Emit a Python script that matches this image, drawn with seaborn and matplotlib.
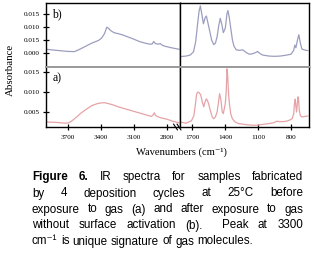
import numpy as np
import pandas as pd
import matplotlib
matplotlib.use("Agg")
import matplotlib.pyplot as plt
from matplotlib.lines import Line2D
import seaborn as sns

# ---- spectrum (b): after exposure to gas ----
wn_b_left = [3890, 3800, 3700, 3640, 3600, 3540, 3480, 3420, 3390, 3365, 3345, 3330,
             3310, 3280, 3240, 3200, 3150, 3100, 3050, 3000, 2960, 2935, 2920, 2905,
             2880, 2860, 2845, 2820, 2760, 2690]
abs_b_left = [0.0014, 0.0010, 0.0006, 0.0005, 0.0012, 0.0025, 0.0038, 0.0048, 0.0058,
              0.0075, 0.0099, 0.0095, 0.0086, 0.0078, 0.0074, 0.0069, 0.0061, 0.0053,
              0.0044, 0.0038, 0.0034, 0.0034, 0.0044, 0.0036, 0.0034, 0.0036, 0.0030,
              0.0026, 0.0020, 0.0014]
wn_b_right = [1810, 1760, 1720, 1690, 1670, 1655, 1640, 1628, 1615, 1600, 1585, 1573,
              1560, 1543, 1525, 1506, 1490, 1475, 1460, 1446, 1432, 1418, 1400, 1385,
              1376, 1365, 1350, 1335, 1320, 1300, 1270, 1240, 1210, 1180, 1150, 1120,
              1105, 1090, 1060, 1000, 950, 900, 850, 800, 775, 765, 755, 740, 728, 715,
              700, 680, 660, 645]
abs_b_right = [-0.0014, -0.0012, -0.0008, 0.0005, 0.0045, 0.0105, 0.0160, 0.0181, 0.0150,
               0.0112, 0.0135, 0.0142, 0.0118, 0.0085, 0.0050, 0.0032, 0.0038, 0.0062,
               0.0105, 0.0133, 0.0110, 0.0078, 0.0095, 0.0150, 0.0163, 0.0140, 0.0095,
               0.0050, 0.0025, 0.0012, 0.0010, 0.0012, 0.0002, -0.0005, -0.0003, 0.0002,
               0.0006, 0.0000, -0.0008, -0.0012, -0.0013, -0.0012, -0.0009, -0.0005,
               0.0010, 0.0030, 0.0020, 0.0050, 0.0070, 0.0040, 0.0015, 0.0012, 0.0010,
               0.0009]

# ---- spectrum (a): before exposure to gas ----
wn_a_left = [3890, 3800, 3720, 3690, 3660, 3620, 3580, 3530, 3480, 3430, 3390, 3360,
             3330, 3280, 3230, 3180, 3130, 3080, 3030, 2980, 2940, 2925, 2915, 2905,
             2890, 2850, 2800, 2750, 2690]
abs_a_left = [0.0025, 0.0024, 0.0022, 0.0023, 0.0028, 0.0037, 0.0047, 0.0057, 0.0066,
              0.0071, 0.0073, 0.0073, 0.0071, 0.0067, 0.0062, 0.0058, 0.0054, 0.0050,
              0.0046, 0.0042, 0.0039, 0.0043, 0.0048, 0.0042, 0.0039, 0.0035, 0.0032,
              0.0027, 0.0023]
wn_a_right = [1810, 1760, 1710, 1688, 1675, 1662, 1650, 1638, 1625, 1610, 1597, 1585,
              1573, 1562, 1550, 1535, 1520, 1506, 1490, 1475, 1462, 1452, 1440, 1428,
              1418, 1408, 1400, 1392, 1384, 1378, 1370, 1362, 1350, 1335, 1310, 1280,
              1250, 1200, 1150, 1110, 1060, 1000, 960, 930, 900, 870, 840, 810, 790,
              775, 768, 761, 755, 749, 742, 735, 730, 724, 715, 705, 690, 670, 645]
abs_a_right = [0.0025, 0.0022, 0.0028, 0.0040, 0.0065, 0.0095, 0.0100, 0.0098, 0.0093,
               0.0075, 0.0063, 0.0075, 0.0083, 0.0078, 0.0068, 0.0052, 0.0038, 0.0033,
               0.0038, 0.0050, 0.0075, 0.0096, 0.0080, 0.0050, 0.0046, 0.0060, 0.0071,
               0.0100, 0.0158, 0.0140, 0.0095, 0.0070, 0.0045, 0.0033, 0.0025, 0.0021,
               0.0020, 0.0018, 0.0017, 0.0017, 0.0019, 0.0021, 0.0023, 0.0027, 0.0026,
               0.0026, 0.0027, 0.0030, 0.0033, 0.0045, 0.0070, 0.0082, 0.0065, 0.0050,
               0.0070, 0.0088, 0.0080, 0.0055, 0.0042, 0.0038, 0.0038, 0.0039, 0.0040]

xticks_left = [3700, 3400, 3100, 2800]
xticks_right = [1700, 1400, 1100, 800]
yticks_b = [0.015, 0.010, 0.005, 0.000]
yticklabels_b = ['0.015', '0.010', '0.015', '0.000']   # as printed in the original
yticks_a = [0.015, 0.010, 0.005]
yticklabels_a = ['0.015', '0.010', '0.005']

caption = [
    [("Figure", "bold"), ("6.", "bold"), ("IR", "normal"), ("spectra", "normal"),
     ("for", "normal"), ("samples", "normal"), ("fabricated", "normal")],
    "by 4 deposition cycles at 25°C before",
    "exposure to gas (a) and after exposure to gas",
    "without surface activation (b).  Peak at 3300",
    "cm\u207b\u00b9 is unique signature of gas molecules.",
]

sns.set_style("ticks")
plt.rcParams['font.family'] = ['Liberation Serif', 'DejaVu Serif']
plt.rcParams['text.color'] = 'black'

W, H = 314, 254
fig = plt.figure(figsize=(W / 100, H / 100), dpi=100)

def box(x0, y0, x1, y1):
    # pixel box (top-left origin) -> figure fraction rect
    return [x0 / W, 1 - y1 / H, (x1 - x0) / W, (y1 - y0) / H]

ax_bl = fig.add_axes(box(45.5, 3, 180, 67))
ax_br = fig.add_axes(box(180, 3, 309, 67))
ax_al = fig.add_axes(box(45.5, 67, 180, 127))
ax_ar = fig.add_axes(box(180, 67, 309, 127))

c_b = '#9c9ebf'
c_a = '#e6a3a6'
grey = '#9a9a9a'

sns.lineplot(x=wn_b_left, y=abs_b_left, ax=ax_bl, color=c_b, linewidth=0.9)
sns.lineplot(x=wn_b_right, y=abs_b_right, ax=ax_br, color=c_b, linewidth=0.9)
sns.lineplot(x=wn_a_left, y=abs_a_left, ax=ax_al, color=c_a, linewidth=0.9)
sns.lineplot(x=wn_a_right, y=abs_a_right, ax=ax_ar, color=c_a, linewidth=0.9)

for ax in (ax_bl, ax_al):
    ax.set_xlim(3900, 2682)
for ax in (ax_br, ax_ar):
    ax.set_xlim(1814, 635)
for ax in (ax_bl, ax_br):
    ax.set_ylim(-0.0054, 0.0192)
for ax in (ax_al, ax_ar):
    ax.set_ylim(0.00125, 0.01625)

for ax in (ax_bl, ax_br, ax_al, ax_ar):
    ax.set_facecolor('white')
    for s in ax.spines.values():
        s.set_color('black')
        s.set_linewidth(1.0)
    ax.set_xlabel('')
    ax.set_ylabel('')
    ax.tick_params(direction='inout', length=4, width=0.9, labelsize=5.2,
                   pad=2, colors='black')
    ax.tick_params(axis='x', pad=3.5)

# middle divider in grey
for ax in (ax_bl, ax_br):
    ax.spines['bottom'].set_color(grey)
    ax.spines['bottom'].set_linewidth(1.4)
    ax.set_xticks([])
for ax in (ax_al, ax_ar):
    ax.spines['top'].set_color(grey)
    ax.spines['top'].set_linewidth(1.4)

ax_bl.set_yticks(yticks_b)
ax_bl.set_yticklabels(yticklabels_b)
ax_al.set_yticks(yticks_a)
ax_al.set_yticklabels(yticklabels_a)
for ax in (ax_br, ax_ar):
    ax.set_yticks([])

ax_al.set_xticks(xticks_left)
ax_ar.set_xticks(xticks_right)

ax_bl.text(0.05, 0.82, 'b)', transform=ax_bl.transAxes, fontsize=8.5, va='center')
ax_al.text(0.05, 0.82, 'a)', transform=ax_al.transAxes, fontsize=8.5, va='center')

fig.text(10.5 / W, 1 - 70 / H, 'Absorbance', rotation=90, fontsize=7.8,
         ha='center', va='center')
fig.text(181 / W, 1 - 152 / H, 'Wavenumbers (cm\u207b\u00b9)', fontsize=7.6,
         ha='center', va='center')

# axis break mark
for dx in (-2.5, 1.0):
    fig.add_artist(Line2D([(176 + dx) / W, (180 + dx) / W],
                          [1 - 124 / H, 1 - 130 / H], color='black', lw=0.8))

# justified caption
sans = ['Liberation Sans', 'DejaVu Sans']
fs = 8.4
x_left, x_right = 32, 303
baselines = [180, 196.5, 212.5, 228.5, 244.5]
renderer = fig.canvas.get_renderer()
for i, line in enumerate(caption):
    if isinstance(line, str):
        words = []
        for w in line.split(' '):
            words.append((w, 'normal'))
    else:
        words = line
    y = 1 - baselines[i] / H
    objs = [fig.text(0, y, w, fontsize=fs, fontweight=wt, family=sans,
                     color='black', va='baseline', ha='left') for w, wt in words]
    widths = [o.get_window_extent(renderer).width if o.get_text() else 0 for o in objs]
    last = i == len(caption) - 1
    if last:
        sp = fig.text(0, 0, 'a b', fontsize=fs, family=sans)
        ab = fig.text(0, 0, 'ab', fontsize=fs, family=sans)
        gap = sp.get_window_extent(renderer).width - ab.get_window_extent(renderer).width
        sp.remove()
        ab.remove()
    else:
        gap = (x_right - x_left - sum(widths)) / (len(objs) - 1)
    x = x_left
    for o, wdt in zip(objs, widths):
        o.set_x(x / W)
        x += wdt + gap

fig.savefig('out.png', dpi=100)
